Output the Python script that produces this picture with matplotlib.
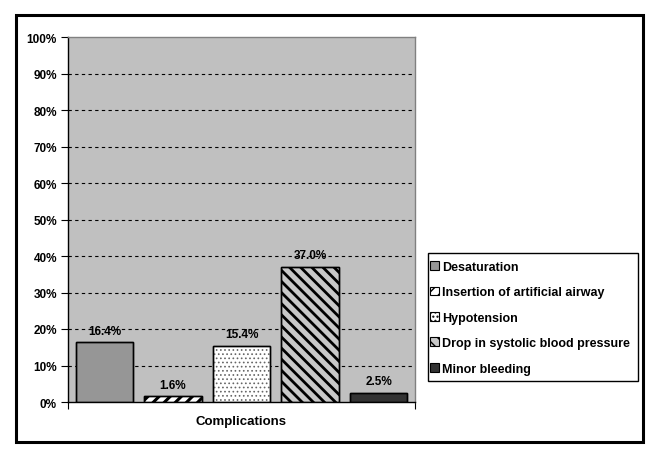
import matplotlib
matplotlib.use("Agg")
import matplotlib.pyplot as plt
from matplotlib.patches import Patch, Rectangle
from matplotlib.ticker import FuncFormatter

plt.rcParams["font.family"] = ["Liberation Sans", "DejaVu Sans"]
plt.rcParams["font.weight"] = "bold"
plt.rcParams["font.size"] = 8

# data
labels = ["Desaturation", "Insertion of artificial airway", "Hypotension",
          "Drop in systolic blood pressure", "Minor bleeding"]
values = [16.4, 1.6, 15.4, 37.0, 2.5]
value_text = ["16.4%", "1.6%", "15.4%", "37.0%", "2.5%"]
category = "Complications"

# styles per series: face, hatch, hatch colour, hatch width
styles = [
    ("#969696", None, None, 1.0),
    ("white", "///", "black", 2.2),
    ("white", "....", "#666666", 0.7),
    ("#C8C8C8", "\\\\\\", "black", 2.0),
    ("#333333", None, None, 1.0),
]

W, H = 660, 460
fig = plt.figure(figsize=(W / 100, H / 100), dpi=100)
ax = fig.add_axes([68 / W, 1 - 403 / H, 347 / W, 365 / H])
ax.set_facecolor("#C0C0C0")


def hatch_patch(p, hc, hw):
    p.set_edgecolor(hc)
    if hasattr(p, "set_hatch_linewidth"):
        p.set_hatch_linewidth(hw)


xs = list(range(len(values)))
ys = [v / 100 for v in values]
for x, y, (fc, hatch, hc, hw) in zip(xs, ys, styles):
    ax.bar(x, y, width=0.835, color=fc, edgecolor="black", linewidth=1.0, zorder=3)
    if hatch:
        b = ax.bar(x, y, width=0.835, fill=False, hatch=hatch, linewidth=0, zorder=3.5)
        for p in b:
            hatch_patch(p, hc, hw)
    # outline again on top
    ax.bar(x, y, width=0.835, fill=False, edgecolor="black", linewidth=1.0, zorder=4)

for x, y, t in zip(xs, ys, value_text):
    ax.annotate(t, (x, y), xytext=(0, 4), textcoords="offset points",
                ha="center", va="bottom", fontsize=8.5, fontweight="bold", zorder=5)

ax.set_xlim(-0.53, 4.53)
ax.set_ylim(0, 1)
yt = [i / 10 for i in range(11)]
ax.set_yticks(yt)
ax.yaxis.set_major_formatter(FuncFormatter(lambda v, p: f"{v:.0%}"))
ax.tick_params(axis="y", direction="out", length=5, width=0.8, color="black", pad=3,
               labelsize=8.5)
for v in yt[1:-1]:
    ax.axhline(v, color="black", linestyle=(0, (3, 3)), linewidth=0.8, zorder=1)

ax.set_xticks([2])
ax.set_xticklabels([category], fontsize=9.5, fontweight="bold")
ax.tick_params(axis="x", which="major", length=0, pad=9)
ax.set_xticks([-0.53, 4.53], minor=True)
ax.tick_params(axis="x", which="minor", direction="out", length=5, width=0.8, color="black")

for side in ["top", "right"]:
    ax.spines[side].set_color("#808080")
    ax.spines[side].set_linewidth(1.0)
for side in ["left", "bottom"]:
    ax.spines[side].set_color("black")
    ax.spines[side].set_linewidth(1.0)

handles = []
for fc, hatch, hc, hw in styles:
    h = Patch(facecolor=fc, edgecolor="black", linewidth=0.8, hatch=hatch)
    handles.append(h)
leg = fig.legend(handles, labels, loc="upper left", bbox_to_anchor=(430 / W, 1 - 262 / H),
                 borderaxespad=0, frameon=False, borderpad=0,
                 handlelength=0.7, handleheight=0.7, handletextpad=0.3,
                 labelspacing=1.07, fontsize=9)

# legend box
fig.patches.append(Rectangle((428 / W, 1 - 382 / H), 210 / W, 128 / H,
                             transform=fig.transFigure, fill=True, facecolor="white",
                             edgecolor="black", linewidth=1.0, zorder=0))

# chart border
fig.patches.append(Rectangle((16 / W, 1 - 443 / H), 627 / W, 427 / H,
                             transform=fig.transFigure, fill=False,
                             edgecolor="black", linewidth=2.2))

fig.savefig("out.png", dpi=100, facecolor="white")
